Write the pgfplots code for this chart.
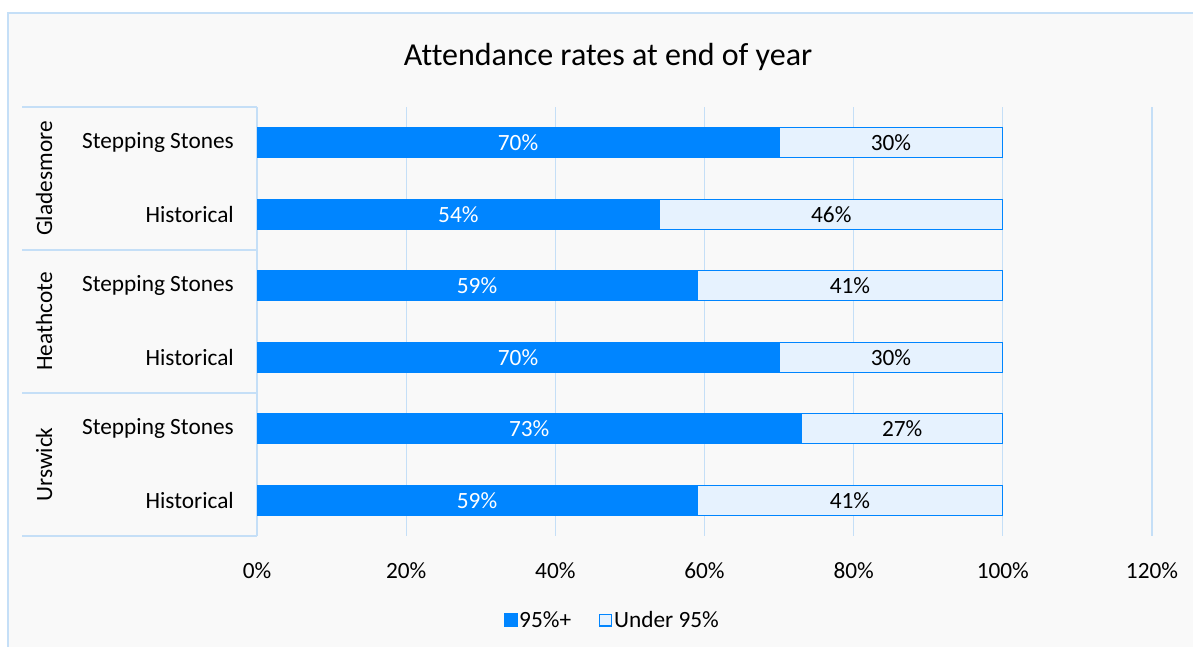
\documentclass[border=0pt]{standalone}
\usepackage{pgfplots}
\pgfplotsset{compat=1.18}
\usepackage{pgfplotstable}
\usepackage{fontspec}
\setmainfont{Carlito}[Ligatures=NoCommon]

\definecolor{barblue}{RGB}{0,133,255}
\definecolor{barlight}{RGB}{230,242,254}
\definecolor{gridblue}{RGB}{197,223,247}
\definecolor{chartbg}{RGB}{249,249,249}

% one row per bar, top to bottom
\pgfplotstableread{
y a b
0 70 30
1 54 46
2 59 41
3 70 30
4 73 27
5 59 41
}\attendance

\newcommand{\lblfont}{\fontsize{23.3}{28}\selectfont}

\begin{document}
\begin{tikzpicture}
\useasboundingbox (0pt,0pt) rectangle (1193pt,-647pt);
\fill[white] (0pt,0pt) rectangle (1193pt,-647pt);
\fill[chartbg] (8pt,-13pt) rectangle (1193pt,-647pt);
\draw[gridblue, line width=1.2pt] (8pt,-647pt) -- (8pt,-13pt) -- (1193pt,-13pt);

\node[font=\fontsize{32}{38}\selectfont] at (608pt,-57pt) {Attendance rates at end of year};

\begin{axis}[
  at={(257pt,-536pt)}, anchor=south west,
  scale only axis,
  width=895pt, height=429pt,
  xmin=0, xmax=120,
  ymin=-0.5, ymax=5.5,
  y dir=reverse,
  axis line style={draw=none},
  major tick length=0pt,
  xtick={0,20,...,120},
  xticklabel={\pgfmathprintnumber{\tick}\%},
  /pgf/number format/assume math mode=true,
  xmajorgrids,
  major grid style={gridblue, line width=1.2pt},
  ytick={0,...,5},
  yticklabels={Stepping Stones,Historical,Stepping Stones,Historical,Stepping Stones,Historical},
  tick label style={font=\lblfont},
  xticklabel style={anchor=north, inner sep=0pt, yshift=-26pt},
  yticklabel style={anchor=east, inner sep=0pt, xshift=-23pt},
  legend columns=-1,
  legend style={draw=none, fill=none, font=\lblfont, at={(0.397,-0.196)}, anchor=center,
    /tikz/every even column/.append style={column sep=26pt},
    nodes={inner sep=2pt}},
]
\addlegendimage{legend image code/.code={\draw[fill=barblue,draw=barblue] (0pt,-6.5pt) rectangle (13pt,6.5pt);}}
\addlegendentry{95\%+}
\addlegendimage{legend image code/.code={\draw[fill=barlight,draw=barblue,line width=1.2pt] (0.6pt,-5.9pt) rectangle (12.4pt,5.9pt);}}
\addlegendentry{Under 95\%}

% full bar (light) then the 95%+ part over it
\addplot[forget plot, xbar, bar width=30pt, bar shift=0pt, fill=barlight, draw=barblue, line width=1.2pt]
  table[x expr=\thisrow{a}+\thisrow{b}, y=y] {\attendance};
\addplot[forget plot, xbar, bar width=30pt, bar shift=0pt, fill=barblue, draw=barblue, line width=1.2pt]
  table[x=a, y=y] {\attendance};

% value labels
\addplot[forget plot, draw=none, mark=none, point meta=explicit,
  nodes near coords={\pgfmathprintnumber{\pgfplotspointmeta}\%},
  every node near coord/.append style={anchor=center, text=white, font=\lblfont}]
  table[x expr=\thisrow{a}/2, y=y, meta=a] {\attendance};
\addplot[forget plot, draw=none, mark=none, point meta=explicit,
  nodes near coords={\pgfmathprintnumber{\pgfplotspointmeta}\%},
  every node near coord/.append style={anchor=center, text=black, font=\lblfont}]
  table[x expr=\thisrow{a}+\thisrow{b}/2, y=y, meta=b] {\attendance};
\end{axis}

% category group frame
\foreach \yy in {107,250,393,536} {
  \draw[gridblue, line width=1.2pt] (22pt,-\yy pt) -- (257pt,-\yy pt);
}
\node[rotate=90, font=\lblfont] at (44pt,-178.5pt) {Gladesmore};
\node[rotate=90, font=\lblfont] at (44pt,-321.5pt) {Heathcote};
\node[rotate=90, font=\lblfont] at (44pt,-464.5pt) {Urswick};
\end{tikzpicture}
\end{document}
